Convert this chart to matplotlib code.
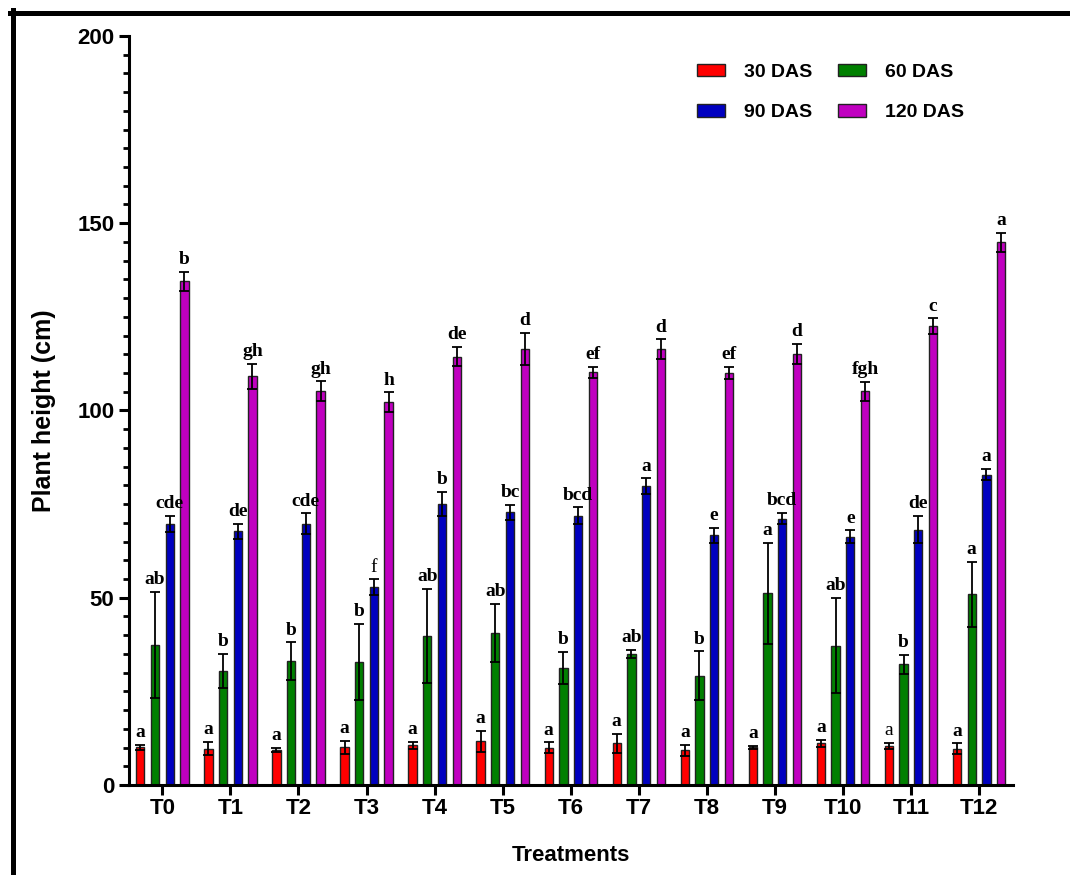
import matplotlib
matplotlib.use("Agg")
import matplotlib.pyplot as plt
from matplotlib.lines import Line2D
from matplotlib.ticker import MultipleLocator
import numpy as np

treatments = ["T0", "T1", "T2", "T3", "T4", "T5", "T6", "T7", "T8", "T9", "T10", "T11", "T12"]
series_names = ["30 DAS", "60 DAS", "90 DAS", "120 DAS"]

das30 = [10.1, 9.7, 9.4, 10.1, 10.6, 11.7, 10.0, 11.1, 9.3, 10.1, 11.1, 10.4, 9.7]
das60 = [37.4, 30.5, 33.1, 32.9, 39.7, 40.6, 31.2, 34.9, 29.2, 51.2, 37.2, 32.2, 50.9]
das90 = [69.7, 67.8, 69.7, 52.8, 75.1, 72.8, 71.9, 79.8, 66.7, 71.1, 66.3, 68.2, 82.9]
das120 = [134.5, 109.1, 105.2, 102.2, 114.4, 116.4, 110.2, 116.4, 110.1, 115.1, 105.1, 122.5, 144.9]

err30 = [0.7, 1.8, 0.6, 1.7, 1.0, 2.8, 1.4, 2.6, 1.5, 0.4, 1.0, 0.9, 1.4]
err60 = [14.2, 4.6, 5.0, 10.1, 12.6, 7.7, 4.3, 1.1, 6.5, 13.5, 12.7, 2.6, 8.6]
err90 = [2.1, 2.0, 2.8, 2.1, 3.2, 2.0, 2.2, 2.1, 2.0, 1.5, 1.7, 3.6, 1.6]
err120 = [2.5, 3.4, 2.6, 2.6, 2.6, 4.3, 1.5, 2.6, 1.6, 2.6, 2.6, 2.1, 2.6]

let30 = ["a", "a", "a", "a", "a", "a", "a", "a", "a", "a", "a", "a", "a"]
let60 = ["ab", "b", "b", "b", "ab", "ab", "b", "ab", "b", "a", "ab", "b", "a"]
let90 = ["cde", "de", "cde", "f", "b", "bc", "bcd", "a", "e", "bcd", "e", "de", "a"]
let120 = ["b", "gh", "gh", "h", "de", "d", "ef", "d", "ef", "d", "fgh", "c", "a"]

# letters that were printed in regular weight in the original
plain_letters = {(2, 3), (0, 11)}

colors = ["#ff0000", "#008000", "#0000c0", "#c000c0"]

values = [das30, das60, das90, das120]
errors = [err30, err60, err90, err120]
letters = [let30, let60, let90, let120]

sans = ["Liberation Sans", "DejaVu Sans"]
serif = ["Liberation Serif", "DejaVu Serif"]

fig = plt.figure(figsize=(10.7, 8.75), dpi=100)
ax = fig.add_axes([0.1206, 0.1029, 0.8262, 0.856])

x = np.arange(len(treatments))
pitch = 0.216
width = 0.122

bars = []
for i in range(4):
    pos = x + (i - 1.5) * pitch
    b = ax.bar(pos, values[i], width=width, color=colors[i], edgecolor="#222222",
               linewidth=1.0, label=series_names[i], zorder=2)
    bars.append(b)
    ax.errorbar(pos, values[i], yerr=errors[i], fmt="none", ecolor="black",
                elinewidth=1.3, capsize=3.5, capthick=1.3, zorder=3)
    for j in range(len(treatments)):
        top = values[i][j] + errors[i][j]
        w = "normal" if (i, j) in plain_letters else "bold"
        ax.text(pos[j], top + 1.0, letters[i][j], ha="center", va="bottom",
                fontsize=14, fontweight=w, family=serif, zorder=4)

ax.set_xlim(-0.49, 12.5)
ax.set_ylim(0, 200)
ax.yaxis.set_major_locator(MultipleLocator(50))
ax.yaxis.set_minor_locator(MultipleLocator(5))
ax.set_xticks(x)
ax.set_xticklabels(treatments)

for side in ["top", "right"]:
    ax.spines[side].set_visible(False)
for side in ["left", "bottom"]:
    ax.spines[side].set_linewidth(2.2)

ax.tick_params(axis="both", which="major", direction="out", length=7.5, width=2.2,
               labelsize=16, pad=3)
ax.tick_params(axis="x", which="major", pad=2)
ax.tick_params(axis="y", which="minor", direction="out", length=4, width=2.0)
for lab in ax.get_xticklabels() + ax.get_yticklabels():
    lab.set_fontweight("bold")
    lab.set_family(sans)

ax.set_ylabel("Plant height (cm)", fontsize=18, fontweight="bold", family=sans)
ax.set_xlabel("Treatments", fontsize=16, fontweight="bold", family=sans)
ax.yaxis.set_label_coords(-0.083, 0.5)
ax.xaxis.set_label_coords(0.5, -0.080)

# row order of the original legend: 30, 60 / 90, 120
order = [0, 2, 1, 3]
leg = ax.legend([bars[k] for k in order], [series_names[k] for k in order],
                ncol=2, loc="upper left", bbox_to_anchor=(0.651, 0.927),
                bbox_transform=fig.transFigure, frameon=False, borderpad=0,
                borderaxespad=0, handlelength=1.45, handleheight=0.62,
                handletextpad=1.0, columnspacing=1.3, labelspacing=1.2,
                prop={"family": sans, "weight": "bold", "size": 14})

# frame lines left over from the original picture border
fig.add_artist(Line2D([10 / 1070, 1.0], [1 - 12.5 / 875] * 2, transform=fig.transFigure,
                      color="black", linewidth=3.6))
fig.add_artist(Line2D([12.5 / 1070] * 2, [0.0, 1 - 10 / 875], transform=fig.transFigure,
                      color="black", linewidth=3.6))

fig.savefig("out.png", dpi=100)
